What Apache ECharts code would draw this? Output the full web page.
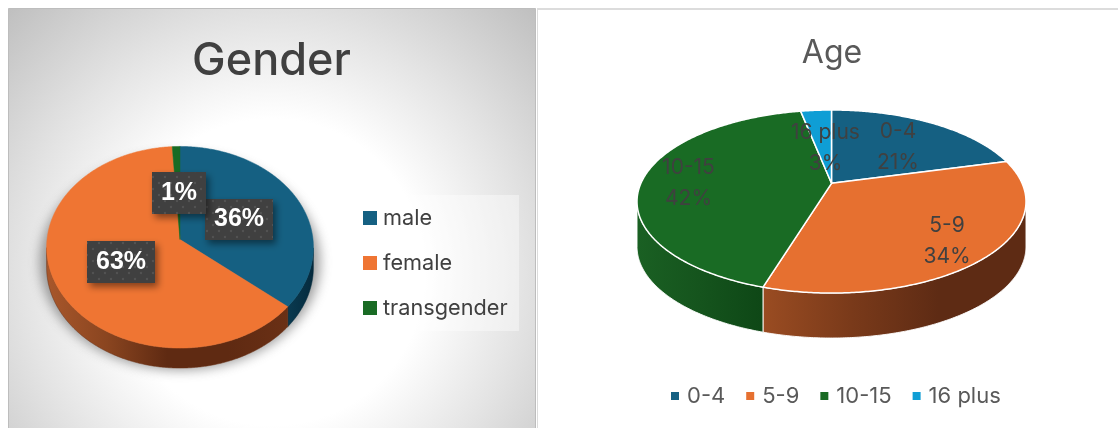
<!DOCTYPE html>
<html><head><meta charset="utf-8">
<style>html,body{margin:0;padding:0;background:#fff}#c{width:1118px;height:428px}</style>
<script src="https://cdn.jsdelivr.net/npm/echarts@6/dist/echarts.min.js"></script>
</head><body><div id="c"></div>
<script>
const genderNames = ['male','female','transgender'];
const genderValues = [36,63,1];
const ageNames = ['0-4','5-9','10-15','16 plus'];
const ageValues = [20.8,33.9,42.2,3.1];
const genderColors = ['#156082','#EF7533','#196B24'];
const ageColors = ['#156082','#E67030','#196B24','#0F9ED5'];

const FONT = 'Inter, "Noto Sans", sans-serif';
const chart = echarts.init(document.getElementById('c'), null, {renderer:'canvas'});

function projector(p){
  return function(theta, drop){
    const u=Math.sin(theta), v=-Math.cos(theta), w=1-p.a*v;
    return [p.cx+p.sx*u/w, p.cy+p.sy*v/w+(drop||0)];
  };
}
const gP = {cx:180, cy:239.5, sx:133, sy:100.2, a:0.077, depth:20};
const aP = {cx:831.5, cy:183.3, sx:190.6, sy:87.9, a:0.199, depth:45};

function grad(stops){
  return new echarts.graphic.LinearGradient(0,0,1,0,stops.map((c,i)=>({offset:i/(stops.length-1),color:c})));
}
function sliceSeries(name,index,values,color,wall,p,border){
  const total=values.reduce((s,x)=>s+x,0);
  const before=values.slice(0,index).reduce((s,x)=>s+x,0);
  const proj=projector(p);
  return {
    type:'custom', name, coordinateSystem:'none', silent:true, z:3,
    itemStyle:{color}, data:[[values[index]]],
    renderItem(params,api){
      const t0=before/total*2*Math.PI, t1=t0+api.value(0)/total*2*Math.PI;
      const n=Math.max(3,Math.ceil((t1-t0)/0.01));
      const rim=[];
      for(let i=0;i<=n;i++) rim.push(t0+(t1-t0)*i/n);
      const top=[[p.cx,p.cy]].concat(rim.map(t=>proj(t)));
      const front=rim.filter(t=>-Math.cos(t)>=p.a);
      const children=[];
      if(front.length>1){
        const pts=front.map(t=>proj(t,0)).concat(front.slice().reverse().map(t=>proj(t,p.depth)));
        children.push({type:'polygon',shape:{points:pts},
          style:{fill:grad(wall),stroke:border?'rgba(255,255,255,0.9)':wall[wall.length-1],lineWidth:border?1:0.5}});
      }
      children.push({type:'polygon',shape:{points:top},
        style:{fill:color,stroke:border?'#fff':color,lineWidth:border?1.5:0.5,lineJoin:'round'}});
      return {type:'group',children};
    }
  };
}

const tile=document.createElement('canvas'); tile.width=tile.height=12;
(function(){const g=tile.getContext('2d');g.fillStyle='#404040';g.fillRect(0,0,12,12);
  g.fillStyle='#525252';g.beginPath();g.arc(3,3,1.2,0,7);g.arc(9,9,1.2,0,7);g.fill();})();
const genderBoxes=[{x:205,y:199,w:68,h:41},{x:87,y:241,w:68,h:42},{x:152,y:172,w:54,h:42}];
const ageLabelPos=[[898,147],[947,241],[688.5,183],[825.5,148]];

const series=[];
// soft shadow under the Gender pie: the ellipse sits off-canvas, only its blur lands on the page
series.push({type:'custom',coordinateSystem:'none',silent:true,z:2,data:[[0]],
  renderItem(){return {type:'ellipse',shape:{cx:180-3000,cy:262,rx:140,ry:108},
     style:{fill:'#000',shadowBlur:12,shadowOffsetX:3000,shadowColor:'rgba(90,90,90,0.6)'}};}});
genderNames.forEach((n,i)=>series.push(sliceSeries(n,i,genderValues,genderColors[i],
  [['#0a3a50','#052a3d'],['#a8572b','#8a4520','#5f2a12','#5f2a12','#6a3015'],['#0e4716','#0e4716']][i],gP,false)));
ageNames.forEach((n,i)=>series.push(sliceSeries(n,i,ageValues,ageColors[i],
  [['#0a3a50','#0a3a50'],['#9a4c22','#7a3a1a','#5e2b14','#5e2b14'],['#1a6023','#15541d','#0e4716'],['#0a6a90','#0a6a90']][i],aP,true)));
series.push({type:'custom',coordinateSystem:'none',silent:true,z:6,data:genderValues.map(v=>[v]),
  renderItem(params,api){
    const b=genderBoxes[params.dataIndex];
    return {type:'group',children:[
      {type:'rect',shape:{x:b.x,y:b.y,width:b.w,height:b.h},
       style:{fill:{image:tile,repeat:'repeat'},shadowBlur:7,shadowOffsetX:3,shadowOffsetY:4,shadowColor:'rgba(0,0,0,0.45)'}},
      {type:'text',style:{x:b.x+b.w/2,y:b.y+b.h/2,text:api.value(0)+'%',align:'center',verticalAlign:'middle',
        fill:'#fff',font:'600 25px "Liberation Sans", sans-serif'}}
    ]};
  }});
series.push({type:'custom',coordinateSystem:'none',silent:true,z:6,data:ageValues.map(v=>[v]),
  renderItem(params,api){
    const q=ageLabelPos[params.dataIndex];
    return {type:'text',style:{x:q[0],y:q[1],text:ageNames[params.dataIndex]+'\n'+Math.round(api.value(0))+'%',
      align:'center',verticalAlign:'middle',fill:'#404040',font:'21px '+FONT,lineHeight:30.5}};
  }});

chart.setOption({
  animation:false,
  backgroundColor:'#fff',
  graphic:[
    {type:'rect',z:-10,shape:{x:8.5,y:8.5,width:527,height:425},
     style:{stroke:'#bdbdbd',lineWidth:1,fill:new echarts.graphic.RadialGradient(0.5,0.62,0.9,[
       {offset:0,color:'#ffffff'},{offset:0.4,color:'#ffffff'},{offset:0.65,color:'#e4e4e4'},{offset:1,color:'#bcbcbc'}])}},
    {type:'rect',z:-9,shape:{x:351,y:195,width:168,height:136},style:{fill:'rgba(255,255,255,0.4)'}},
    {type:'line',z:-9,shape:{x1:537.5,y1:8,x2:537.5,y2:428},style:{stroke:'#dcdcdc',lineWidth:1}},
    {type:'line',z:-9,shape:{x1:537,y1:9,x2:1118,y2:9},style:{stroke:'#dcdcdc',lineWidth:2}}
  ],
  title:[
    {text:'Gender',left:271.5,top:61,padding:0,textAlign:'center',textVerticalAlign:'middle',
     textStyle:{fontFamily:FONT,fontSize:45,fontWeight:500,color:'#404040'}},
    {text:'Age',left:832,top:53,padding:0,textAlign:'center',textVerticalAlign:'middle',
     textStyle:{fontFamily:FONT,fontSize:32,fontWeight:400,color:'#595959'}}
  ],
  legend:[
    {data:genderNames,orient:'vertical',left:358,top:202,icon:'rect',itemWidth:14,itemHeight:14,itemGap:23,
     selectedMode:false,textStyle:{fontFamily:FONT,fontSize:21.7,color:'#404040',padding:[0,0,0,1]}},
    {data:ageNames,orient:'horizontal',left:666,top:380,icon:'rect',itemWidth:8,itemHeight:8,itemGap:21,
     selectedMode:false,textStyle:{fontFamily:FONT,fontSize:22,color:'#595959',padding:[0,0,0,3]}}
  ],
  series
});
</script></body></html>
